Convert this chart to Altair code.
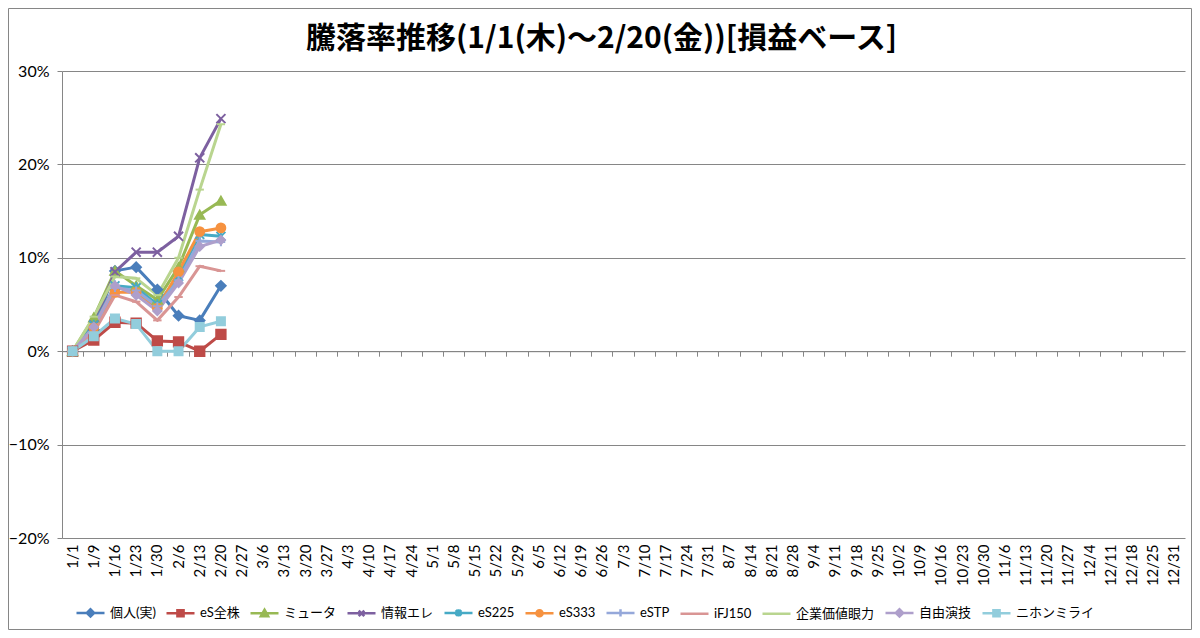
import altair as alt
import pandas as pd

# ---- data -------------------------------------------------------------
dates = ["1/1", "1/9", "1/16", "1/23", "1/30", "2/6", "2/13", "2/20", "2/27",
         "3/6", "3/13", "3/20", "3/27", "4/3", "4/10", "4/17", "4/24", "5/1",
         "5/8", "5/15", "5/22", "5/29", "6/5", "6/12", "6/19", "6/26", "7/3",
         "7/10", "7/17", "7/24", "7/31", "8/7", "8/14", "8/21", "8/28", "9/4",
         "9/11", "9/18", "9/25", "10/2", "10/9", "10/16", "10/23", "10/30",
         "11/6", "11/13", "11/20", "11/27", "12/4", "12/11", "12/18", "12/25",
         "12/31"]

series_names = ["個人(実)", "eS全株", "ミュータ", "情報エレ", "eS225", "eS333",
                "eSTP", "iFJ150", "企業価値眼力", "自由演技", "ニホンミライ"]

# values in percent, 1/1 .. 2/20
v_kojin   = [0.0, 2.3, 8.6, 9.0, 6.6, 3.8, 3.3, 7.0]
v_eszen   = [0.0, 1.2, 3.1, 3.0, 1.1, 1.0, 0.0, 1.8]
v_myuta   = [0.0, 3.6, 8.6, 7.0, 5.5, 9.0, 14.6, 16.1]
v_joho    = [0.0, 2.8, 8.5, 10.6, 10.6, 12.3, 20.7, 24.9]
v_es225   = [0.0, 2.8, 7.0, 6.8, 5.0, 8.0, 12.5, 12.3]
v_es333   = [0.0, 2.5, 6.3, 6.3, 4.6, 8.5, 12.8, 13.2]
v_estp    = [0.0, 2.5, 6.8, 6.5, 4.8, 7.6, 11.8, 11.7]
v_ifj150  = [0.0, 2.0, 6.0, 5.3, 3.3, 5.8, 9.1, 8.6]
v_kigyo   = [0.0, 3.7, 8.0, 7.8, 6.0, 10.0, 17.3, 24.3]
v_jiyu    = [0.0, 2.6, 7.0, 6.0, 4.3, 7.3, 11.2, 11.9]
v_nihon   = [0.0, 1.6, 3.5, 2.9, 0.0, 0.0, 2.6, 3.2]

all_values = [v_kojin, v_eszen, v_myuta, v_joho, v_es225, v_es333, v_estp,
              v_ifj150, v_kigyo, v_jiyu, v_nihon]

colors = ["#4A7EBB", "#BE4B48", "#98B954", "#7D60A0", "#46AAC5", "#F69240",
          "#95A8DA", "#D99594", "#B9D58F", "#AE9FCB", "#92CDDC"]

X_PATH = "M-1,-1L1,1M-1,1L1,-1"
AST_PATH = "M-1,-1L1,1M-1,1L1,-1M0,-1.2L0,1.2"
PLUS_PATH = "M-1,0L1,0M0,-1L0,1"
DASH_PATH = "M-1,0L1,0"
plot_shapes = ["diamond", "square", "triangle-up", X_PATH, AST_PATH, "circle",
               PLUS_PATH, DASH_PATH, DASH_PATH, "diamond", "square"]
plot_sizes = [90, 64, 90, 80, 70, 90, 70, 0, 45, 90, 110]

L = "M-1,0L1,0"
legend_shapes = [
    L + "M-0.26,0L0,-0.26L0.26,0L0,0.26Z",
    L + "M-0.22,-0.22L0.22,-0.22L0.22,0.22L-0.22,0.22Z",
    L + "M0,-0.26L0.26,0.2L-0.26,0.2Z",
    L + "M-0.2,-0.2L0.2,0.2M-0.2,0.2L0.2,-0.2",
    L + "M-0.2,-0.2L0.2,0.2M-0.2,0.2L0.2,-0.2M0,-0.26L0,0.26",
    L + "M0.22,0A0.22,0.22 0 1,1 -0.22,0A0.22,0.22 0 1,1 0.22,0Z",
    L + "M0,-0.26L0,0.26",
    L,
    L,
    L + "M-0.26,0L0,-0.26L0.26,0L0,0.26Z",
    L + "M-0.22,-0.22L0.22,-0.22L0.22,0.22L-0.22,0.22Z",
]

rows = []
for name, vals in zip(series_names, all_values):
    for d, v in zip(dates, vals):
        rows.append({"date": d, "series": name, "value": v / 100.0})
df = pd.DataFrame(rows)

# ---- chart ------------------------------------------------------------
W, H = 1123, 467
PAD_L, PAD_T, PAD_R, PAD_B = 54, 63, 7, 92
YMIN, YMAX = -0.2, 0.3
GRAY = "#868686"
FONT = "Lato, 'Noto Sans CJK JP', sans-serif"

xscale = alt.Scale(type="band", domain=dates, paddingInner=0, paddingOuter=0)
yscale = alt.Scale(domain=[YMIN, YMAX], nice=False, zero=False)

base = alt.Chart(df)

x_labels = alt.X("date:O", scale=xscale, sort=dates, title=None,
                 axis=alt.Axis(orient="bottom", labelAngle=270, domain=False,
                               ticks=False, grid=False, labelFontSize=15,
                               labelFont=FONT, labelColor="black",
                               labelPadding=6, labelOverlap=False))
x_plain = alt.X("date:O", scale=xscale, sort=dates, title=None, axis=None)
y_enc = alt.Y("value:Q", scale=yscale, title=None,
              axis=alt.Axis(values=[-0.2, -0.1, 0.0, 0.1, 0.2, 0.3],
                            format=".0%", grid=True, gridColor=GRAY,
                            gridWidth=1, domainColor=GRAY, tickColor=GRAY,
                            tickSize=5, labelFontSize=16, labelFont=FONT,
                            labelColor="black", labelPadding=8))

lines = base.mark_line(strokeWidth=3, strokeJoin="round").encode(
    x=x_labels,
    y=y_enc,
    color=alt.Color("series:N", scale=alt.Scale(domain=series_names, range=colors),
                    legend=None),
    detail="series:N",
)

points = base.mark_point(filled=True, strokeWidth=2, opacity=1).encode(
    x=x_plain,
    y=y_enc,
    fill=alt.Fill("series:N", scale=alt.Scale(domain=series_names, range=colors),
                  legend=None),
    stroke=alt.Stroke("series:N", scale=alt.Scale(domain=series_names, range=colors),
                      legend=None),
    shape=alt.Shape("series:N", scale=alt.Scale(domain=series_names, range=plot_shapes),
                    legend=None),
    size=alt.Size("series:N", scale=alt.Scale(domain=series_names, range=plot_sizes),
                  legend=None),
)

zero_offset = -H * (0 - YMIN) / (YMAX - YMIN)
zero_axis = base.mark_point(opacity=0).encode(
    x=alt.X("date:O", scale=xscale, sort=dates, title=None,
            axis=alt.Axis(orient="bottom", offset=zero_offset, labels=False,
                          ticks=True, tickSize=5, tickColor=GRAY,
                          domain=True, domainColor=GRAY, grid=False,
                          bandPosition=0)),
    y=y_enc,
)

legend_layer = base.mark_point(filled=True).transform_filter("false").encode(
    x=x_plain,
    y=y_enc,
    fill=alt.Fill("series:N", scale=alt.Scale(domain=series_names, range=colors),
                  title=None),
    stroke=alt.Stroke("series:N", scale=alt.Scale(domain=series_names, range=colors),
                      title=None),
    shape=alt.Shape("series:N", scale=alt.Scale(domain=series_names, range=legend_shapes),
                    title=None),
)

# chart frame (decorative border around the whole chart)
frame = alt.Chart(pd.DataFrame({"f": [0]})).mark_rect(
    fill=None, stroke=GRAY, strokeWidth=1
).encode(
    x=alt.value(-PAD_L + 0.5), x2=alt.value(W + PAD_R - 0.5),
    y=alt.value(-PAD_T + 0.5), y2=alt.value(H + PAD_B - 0.5),
)

chart = alt.layer(frame, lines, points, zero_axis, legend_layer).resolve_scale(
    fill="independent", stroke="independent", shape="independent"
).resolve_legend(
    fill="independent", stroke="independent", shape="independent"
).resolve_axis(x="independent").properties(
    width=W, height=H,
    title=alt.TitleParams("騰落率推移(1/1(木)～2/20(金))[損益ベース]",
                          fontSize=30, font="'Noto Sans CJK JP', sans-serif",
                          fontWeight="bold", anchor="middle", color="black",
                          offset=-46, dx=-22),
    autosize=alt.AutoSizeParams(type="none"),
    padding={"left": PAD_L, "top": PAD_T, "right": PAD_R, "bottom": PAD_B},
).configure_view(stroke=None).configure_legend(
    orient="none", legendX=13, legendY=526, direction="horizontal", columns=11,
    symbolSize=784, symbolStrokeWidth=2.5, symbolOpacity=1, labelFontSize=13,
    labelFont=FONT, labelColor="black", columnPadding=5, labelOffset=4,
    labelLimit=200,
)

chart.save("out.html", embed_options={"renderer": "svg", "actions": False})
